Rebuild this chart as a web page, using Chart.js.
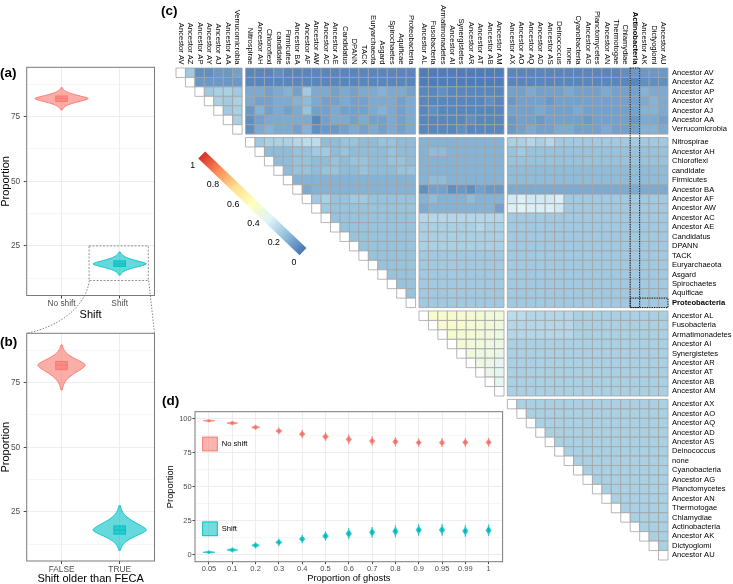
<!DOCTYPE html>
<html>
<head>
<meta charset="utf-8">
<script src="https://cdn.jsdelivr.net/npm/chart.js@4.4.1/dist/chart.umd.min.js"></script>
<style>
  body { margin: 0; width: 733px; height: 584px; position: relative; overflow: hidden; background: #fff;
         font-family: "Liberation Sans", Arial, sans-serif; }
  canvas { position: absolute; }
  .tag { position: absolute; font-weight: bold; font-size: 13.5px; line-height: 14px; color: #000; }
</style>
</head>
<body>
<canvas id="heat" width="573" height="584" style="left:160px;top:0"></canvas>
<canvas id="violA" width="160" height="267" style="left:0;top:55px"></canvas>
<canvas id="violB" width="160" height="306" style="left:0;top:278px"></canvas>
<canvas id="ghost" width="350" height="199" style="left:160px;top:385px"></canvas>
<div class="tag" style="left:0;top:66px">(a)</div>
<div class="tag" style="left:0;top:335px">(b)</div>
<div class="tag" style="left:161px;top:4px">(c)</div>
<div class="tag" style="left:162px;top:394px">(d)</div>
<script>
/* ---------- data ---------- */

// (a) / (b) violins
const shiftGroups = ['No shift', 'Shift'];
const fecaGroups  = ['FALSE', 'TRUE'];
const aMid = [82.0, 18.0];
const aLo  = [77.6, 13.7];
const aHi  = [86.2, 22.6];
const aQ1  = [80.9, 17.0];
const aQ3  = [83.0, 19.2];
const aHalfWidth = [0.46, 0.46];

const bMid = [81.8, 18.0];
const bLo  = [72.2, 10.1];
const bHi  = [89.6, 27.4];
const bQ1  = [80.0, 16.4];
const bQ3  = [83.2, 19.6];
const bHalfWidth = [0.41, 0.46];

// (d) proportion of ghosts
const ghostProps = ['0.05', '0.1', '0.2', '0.3', '0.4', '0.5', '0.6', '0.7', '0.8', '0.9', '0.95', '0.99', '1'];
const dNoShiftMid = [98.5, 96.8, 93.7, 91.0, 88.7, 86.8, 84.8, 83.6, 83.1, 82.4, 82.4, 82.6, 82.6];
const dNoShiftLo  = [97.5, 95.3, 91.9, 88.5, 85.7, 83.6, 81.3, 80.3, 79.8, 79.4, 79.2, 79.4, 79.4];
const dNoShiftHi  = [99.5, 98.3, 95.5, 93.5, 91.7, 90.0, 88.3, 86.9, 86.4, 85.4, 85.6, 85.8, 85.8];
const dNoShiftQ1  = [98.2, 96.3, 93.0, 90.1, 87.7, 85.7, 83.6, 82.5, 82.0, 81.3, 81.3, 81.5, 81.5];
const dNoShiftQ3  = [98.8, 97.3, 94.4, 91.9, 89.7, 87.9, 86.0, 84.7, 84.2, 83.5, 83.5, 83.7, 83.7];
const dNoShiftHw  = [0.25, 0.23, 0.17, 0.135, 0.12, 0.12, 0.115, 0.11, 0.11, 0.11, 0.11, 0.11, 0.11];
const dShiftMid = [1.8, 3.5, 6.9, 9.1, 11.5, 13.7, 15.5, 16.5, 17.2, 18.2, 18.2, 17.4, 17.9];
const dShiftLo  = [0.7, 1.8, 4.7, 6.4, 8.5, 10.3, 11.5, 12.7, 12.9, 14.0, 14.0, 13.2, 13.7];
const dShiftHi  = [2.9, 5.2, 9.1, 11.8, 14.5, 17.1, 19.5, 20.3, 21.5, 22.4, 22.4, 21.6, 22.1];
const dShiftQ1  = [1.5, 3.0, 6.1, 8.2, 10.5, 12.6, 14.2, 15.2, 15.9, 16.9, 16.9, 16.1, 16.6];
const dShiftQ3  = [2.1, 4.0, 7.7, 10.0, 12.5, 14.8, 16.8, 17.8, 18.5, 19.5, 19.5, 18.7, 19.2];
const dShiftHw  = [0.26, 0.23, 0.16, 0.13, 0.12, 0.12, 0.115, 0.11, 0.11, 0.11, 0.11, 0.11, 0.11];

// (c) heatmap: taxa in plotted order, grouped by the white separators
const taxa = [
  'Ancestor AV', 'Ancestor AZ', 'Ancestor AP', 'Ancestor AY', 'Ancestor AJ', 'Ancestor AA', 'Verrucomicrobia',
  'Nitrospirae', 'Ancestor AH', 'Chloroflexi', 'candidate', 'Firmicutes', 'Ancestor BA', 'Ancestor AF',
  'Ancestor AW', 'Ancestor AC', 'Ancestor AE', 'Candidatus', 'DPANN', 'TACK', 'Euryarchaeota', 'Asgard',
  'Spirochaetes', 'Aquificae', 'Proteobacteria',
  'Ancestor AL', 'Fusobacteria', 'Armatimonadetes', 'Ancestor AI', 'Synergistetes', 'Ancestor AR',
  'Ancestor AT', 'Ancestor AB', 'Ancestor AM',
  'Ancestor AX', 'Ancestor AO', 'Ancestor AQ', 'Ancestor AD', 'Ancestor AS', 'Deinococcus', 'none',
  'Cyanobacteria', 'Ancestor AG', 'Planctomycetes', 'Ancestor AN', 'Thermotogae', 'Chlamydiae',
  'Actinobacteria', 'Ancestor AK', 'Dictyoglomi', 'Ancestor AU'
];
const groupSizes = [7, 18, 9, 17];
const boldRow = 'Proteobacteria';
const boldColumn = 'Actinobacteria';
// one string per row, cells right of the diagonal; letter a..z = 0..0.5 (step 0.02), '|' = group break
const heatRows = [
  'kddeef|cccdcccccccccccccc|bbbbbbbbb|ccccccccccccdeeee',
  'eeeee|cccccccccccccccccc|bbbbbbbbb|ccccccccccccccddd',
  'kllk|ggfghfkggfgfgghggf|ccdcccccc|ffgfffgfffgfffhgg',
  'lkl|gffgghigffgffgggfg|cccccccdc|efffefffffffffghg',
  'kl|ehfgfgjffgfffghgfg|cdccccccc|fffgfffgffffffhhg',
  'l|dfgggggcfggfgffgfg|cccccdccc|effeffffeffffeggf',
  '|dghggfhdeefgfgfgfg|ccccdcccc|efgffggfffgfffhhg',
  'klllmnniijjiijjii|hhhhhhhhh|llmlmkkkkkkkkkkkk',
  'iiijjkkijiiiijii|hiihhhhhh|jkjjjjjjjjjjjjjjj',
  'iijjiijijjiijji|hhhhhhhhh|jjjjjjjjjjjjjjjjj',
  'ijjijjiijiiijj|hhhhhhhhh|iiiiiiiiiiiiiiiii',
  'hhhhhhhhhhhhh|hiihhhhhh|iiiiiiiiiiiiiiiii',
  'ghhhhhhhhhhh|dffdedfee|ggggggggggggggggg',
  'kljjkkjjjjj|hihhhihhh|pqpppqkkkkkkkkkkk',
  'kjjjjjjjjj|ghhhhhhhf|qrqqqpkkkkkkkkkkk',
  'jjjjjjjjj|mmmmmmmmm|kkkkkkkkkkkkkkkkk',
  'jjjjjjjj|llllllmll|kkkkkkkkkkkkkkkkk',
  'jjjjjjj|lllllllll|kkkkkkkkkkkkkkkkk',
  'jjjjjj|lllllllll|kkkkkkkkkkkkkkkkk',
  'jjjjj|kkkkkkkkk|kkkkkkkkkkkkkkkkk',
  'jjjj|kkkkkkkkk|kkkkkkkkkkkkkkkkk',
  'jjj|kkkkkkkkk|kkkkkkkkkkkkkkkkk',
  'jj|kkkkkkkkk|kkkkkkkkkkkkkkkkk',
  'j|kkkkkkkkk|kkkkkkkkkkkkkkkkk',
  '|kkkkkkkkk|kkkkkkkkkkkkkkkkk',
  'xxxxwwvv|nnmmmmmllllllllll',
  'xxxwwvv|mmmmmmmllllllllll',
  'xwwvvu|mmmmmmmllllllllll',
  'wvvuu|lllllllllllllllll',
  'vuut|lllllllllllllllll',
  'uts|lllllllllllllllll',
  'ts|lllllllllllllllll',
  's|lllllllllllllllll',
  '|lllllllllllllllll',
  'llllllllllllllll',
  'lllllllllllllll',
  'llllllllllllll',
  'lllllllllllll',
  'llllllllllll',
  'lllllllllll',
  'llllllllll',
  'lllllllll',
  'llllllll',
  'lllllll',
  'llllll',
  'lllll',
  'llll',
  'lll',
  'll',
  'l',
  ''
];
const scaleTicks = [0, 0.2, 0.4, 0.6, 0.8, 1];
const rampStops  = [0, 1 / 6, 2 / 6, 3 / 6, 4 / 6, 5 / 6, 1];
const rampColors = ['#4575b4', '#91bfdb', '#e0f3f8', '#ffffbf', '#fee090', '#fc8d59', '#d73027'];

/* ---------- helpers ---------- */

Chart.defaults.font.family = '"Liberation Sans", Arial, sans-serif';
Chart.defaults.color = '#4d4d4d';

const RED = '#F8766D', TEAL = '#00BFC4';

function hexRgb(h) { return [1, 3, 5].map(i => parseInt(h.substr(i, 2), 16)); }
function colorAt(v) {
  if (v === null) return '#ffffff';
  v = Math.max(0, Math.min(1, v));
  let k = 0;
  while (k < rampStops.length - 2 && v > rampStops[k + 1]) k++;
  const t = (v - rampStops[k]) / (rampStops[k + 1] - rampStops[k]);
  const a = hexRgb(rampColors[k]), b = hexRgb(rampColors[k + 1]);
  return 'rgb(' + a.map((c, i) => Math.round(c + (b[i] - c) * t)).join(',') + ')';
}

const GAP = 0.36; // white separator between groups, in cell units
const groupStart = [];
groupSizes.reduce((acc, n) => { groupStart.push(acc); return acc + n; }, 0);
const groupIndex = j => groupStart.filter(s => j >= s).length - 1;
const pos = j => j + 0.5 + GAP * groupIndex(j);
const SPAN = taxa.length + GAP * (groupSizes.length - 1);

const cells = [];
taxa.forEach((_, i) => {
  const row = heatRows[i].replace(/\|/g, '');
  cells.push({ x: pos(i), y: pos(i), v: null });
  for (let k = 0; k < row.length; k++) {
    cells.push({ x: pos(i + 1 + k), y: pos(i), v: (row.charCodeAt(k) - 97) / 50 });
  }
});

/* ---------- plugins ---------- */

const frame = {
  id: 'frame',
  afterDraw(chart) {
    const { ctx, chartArea: a } = chart;
    ctx.save();
    ctx.strokeStyle = '#7a7a7a';
    ctx.lineWidth = 1;
    ctx.strokeRect(a.left, a.top, a.right - a.left, a.bottom - a.top);
    ctx.restore();
  }
};

function profile(t) { return Math.exp(-Math.pow(2.2 * t, 1.6)); }

const violins = {
  id: 'violins',
  afterDatasetsDraw(chart) {
    const { ctx, scales: { x, y } } = chart;
    chart.data.datasets.forEach((ds, di) => {
      const meta = chart.getDatasetMeta(di);
      meta.data.forEach((pt, k) => {
        const cx = pt.x, cy = pt.y;
        const hw = x.getPixelForValue(ds.data[k].x + ds.halfWidth[k]) - cx;
        const hiPx = y.getPixelForValue(ds.hi[k]), loPx = y.getPixelForValue(ds.lo[k]);
        const n = 30, side = [];
        for (let s = n; s >= 0; s--) side.push([cy + (hiPx - cy) * s / n, hw * profile(s / n)]);
        for (let s = 1; s <= n; s++) side.push([cy + (loPx - cy) * s / n, hw * profile(s / n)]);
        ctx.save();
        ctx.beginPath();
        side.forEach(([py, w], i) => i ? ctx.lineTo(cx + w, py) : ctx.moveTo(cx + w, py));
        for (let i = side.length - 1; i >= 0; i--) ctx.lineTo(cx - side[i][1], side[i][0]);
        ctx.closePath();
        ctx.fillStyle = ds.fill;
        ctx.fill();
        ctx.strokeStyle = ds.stroke;
        ctx.lineWidth = ds.outline;
        ctx.stroke();
        // box
        const bw = x.getPixelForValue(ds.data[k].x + ds.boxWidth / 2) - cx;
        const q1 = y.getPixelForValue(ds.q1[k]), q3 = y.getPixelForValue(ds.q3[k]);
        ctx.fillStyle = ds.boxFill;
        ctx.fillRect(cx - bw, q3, 2 * bw, q1 - q3);
        ctx.strokeStyle = ds.stroke;
        ctx.lineWidth = ds.outline;
        ctx.strokeRect(cx - bw, q3, 2 * bw, q1 - q3);
        ctx.beginPath();
        ctx.moveTo(cx - bw, cy);
        ctx.lineTo(cx + bw, cy);
        ctx.stroke();
        ctx.restore();
      });
    });
  }
};

function violinSet(cats, mid, lo, hi, q1, q3, hw, fill, stroke, opts) {
  return Object.assign({
    data: mid.map((m, i) => ({ x: cats[i], y: m })),
    lo, hi, q1, q3, halfWidth: hw,
    fill, stroke, boxFill: fill, outline: 0.9, boxWidth: 0.2,
    pointRadius: 0, showLine: false
  }, opts || {});
}

function ggAxes(o) {
  const major = v => Math.abs(v % 25) < 1e-6;
  return {
    x: {
      type: 'linear', min: o.xMin, max: o.xMax,
      afterBuildTicks: s => { s.ticks = o.xLabels.map((_, i) => ({ value: i })); },
      afterFit: s => { s.height = o.xHeight; },
      ticks: { autoSkip: false, maxRotation: 0, padding: o.xPad, font: { size: o.tickSize }, color: '#4d4d4d',
               callback: (v, i) => o.xLabels[i] },
      grid: { color: '#ebebeb', lineWidth: 0.9, tickLength: o.tl, tickColor: '#333' },
      border: { display: false },
      title: { display: true, text: o.xTitle, color: '#000', padding: 0,
               font: { size: o.titleSize, lineHeight: o.titleLH } }
    },
    y: {
      type: 'linear', min: o.yMin, max: o.yMax,
      afterBuildTicks: s => { s.ticks = o.yTicks.map(v => ({ value: v })); },
      afterFit: s => { s.width = o.yWidth; },
      ticks: { autoSkip: false, padding: o.yPad, font: { size: o.tickSize }, color: '#4d4d4d',
               callback: v => major(v) ? String(v) : '' },
      grid: { color: '#ebebeb', tickLength: o.tl,
              lineWidth: c => major(c.tick.value) ? 0.9 : 0.45,
              tickColor: c => major(c.tick.value) ? '#333' : 'rgba(0,0,0,0)' },
      border: { display: false },
      title: { display: true, text: 'Proportion', color: '#000', padding: { top: o.yTitlePad, bottom: 0 },
               font: { size: o.titleSize, lineHeight: 1 } }
    }
  };
}

const baseOpts = {
  responsive: false, animation: false, events: [],
  plugins: { legend: { display: false }, tooltip: { enabled: false } }
};

/* ---------- (a) ---------- */

const dashBox = {
  id: 'dashBox',
  afterDraw(chart) {
    const { ctx, scales: { x, y } } = chart;
    const l = x.getPixelForValue(0.474), r = x.getPixelForValue(1.493);
    const t = y.getPixelForValue(25), b = y.getPixelForValue(11.6);
    ctx.save();
    ctx.setLineDash([2, 1.5]);
    ctx.strokeStyle = '#777';
    ctx.lineWidth = 0.8;
    ctx.strokeRect(l, t, r - l, b - t);
    ctx.restore();
  }
};

new Chart(document.getElementById('violA'), {
  type: 'scatter',
  data: { datasets: [
    violinSet([0], aMid.slice(0, 1), aLo.slice(0, 1), aHi.slice(0, 1), aQ1.slice(0, 1), aQ3.slice(0, 1),
              aHalfWidth.slice(0, 1), 'rgba(248,118,109,0.6)', RED),
    violinSet([1], aMid.slice(1), aLo.slice(1), aHi.slice(1), aQ1.slice(1), aQ3.slice(1),
              aHalfWidth.slice(1), 'rgba(0,191,196,0.6)', TEAL)
  ] },
  options: Object.assign({}, baseOpts, {
    layout: { padding: { left: 0, top: 12.3, right: 5.5, bottom: 0 } },
    scales: ggAxes({ xMin: -0.6, xMax: 1.6, xLabels: shiftGroups, xHeight: 26.5, xPad: 0.5, tl: 3,
                     xTitle: 'Shift', titleSize: 11, titleLH: 1.2, tickSize: 8.3,
                     yMin: 5.8, yMax: 94.1, yTicks: [12.5, 25, 37.5, 50, 62.5, 75, 87.5],
                     yWidth: 26.7, yPad: 3.5, yTitlePad: 0 })
  }),
  plugins: [violins, dashBox, frame]
});

/* ---------- (b) ---------- */

const connectors = {
  id: 'connectors',
  afterDraw(chart) {
    const ctx = chart.ctx, top = 278;
    ctx.save();
    ctx.setLineDash([1.5, 1.5]);
    ctx.strokeStyle = '#666';
    ctx.lineWidth = 0.8;
    ctx.beginPath();
    ctx.moveTo(89.3, 280.7 - top);
    ctx.bezierCurveTo(86, 305 - top, 62, 326 - top, 26.7, 333.3 - top);
    ctx.moveTo(148.7, 280.7 - top);
    ctx.lineTo(154.5, 333.3 - top);
    ctx.stroke();
    ctx.restore();
  }
};

new Chart(document.getElementById('violB'), {
  type: 'scatter',
  data: { datasets: [
    violinSet([0], bMid.slice(0, 1), bLo.slice(0, 1), bHi.slice(0, 1), bQ1.slice(0, 1), bQ3.slice(0, 1),
              bHalfWidth.slice(0, 1), 'rgba(248,118,109,0.6)', RED),
    violinSet([1], bMid.slice(1), bLo.slice(1), bHi.slice(1), bQ1.slice(1), bQ3.slice(1),
              bHalfWidth.slice(1), 'rgba(0,191,196,0.6)', TEAL)
  ] },
  options: Object.assign({}, baseOpts, {
    layout: { padding: { left: 0, top: 55.3, right: 5.5, bottom: 0 } },
    scales: ggAxes({ xMin: -0.6, xMax: 1.6, xLabels: fecaGroups, xHeight: 23, xPad: 0.3, tl: 3,
                     xTitle: 'Shift older than FECA', titleSize: 11, titleLH: 1, tickSize: 8.3,
                     yMin: 6.0, yMax: 94.1, yTicks: [12.5, 25, 37.5, 50, 62.5, 75, 87.5],
                     yWidth: 26.7, yPad: 3.5, yTitlePad: 0 })
  }),
  plugins: [violins, connectors, frame]
});

/* ---------- (d) ---------- */

const ghostLegend = {
  id: 'ghostLegend',
  afterDraw(chart) {
    const { ctx, chartArea: a } = chart;
    const keys = [['No shift', 'rgba(248,118,109,0.55)', RED, 32.3], ['Shift', 'rgba(0,191,196,0.55)', TEAL, 117.1]];
    ctx.save();
    keys.forEach(([label, fill, stroke, dy]) => {
      const x = a.left + 7.7, y = a.top + dy;
      ctx.fillStyle = fill;
      ctx.fillRect(x, y - 6.9, 14.6, 13.8);
      ctx.strokeStyle = stroke;
      ctx.lineWidth = 1;
      ctx.strokeRect(x, y - 6.9, 14.6, 13.8);
      ctx.fillStyle = '#000';
      ctx.font = '7.6px "Liberation Sans", Arial, sans-serif';
      ctx.textBaseline = 'middle';
      ctx.fillText(label, x + 19, y);
    });
    ctx.restore();
  }
};

const idx = ghostProps.map((_, i) => i);
new Chart(document.getElementById('ghost'), {
  type: 'scatter',
  data: { datasets: [
    violinSet(idx, dNoShiftMid, dNoShiftLo, dNoShiftHi, dNoShiftQ1, dNoShiftQ3, dNoShiftHw,
              'rgba(248,118,109,0.8)', RED, { boxFill: 'rgba(230,90,82,0.9)', boxWidth: 0.07, outline: 0.6 }),
    violinSet(idx, dShiftMid, dShiftLo, dShiftHi, dShiftQ1, dShiftQ3, dShiftHw,
              'rgba(0,191,196,0.8)', TEAL, { boxFill: 'rgba(0,160,165,0.9)', boxWidth: 0.07, outline: 0.6 })
  ] },
  options: Object.assign({}, baseOpts, {
    layout: { padding: { left: 0, top: 26.7, right: 7.4, bottom: 0 } },
    scales: ggAxes({ xMin: -0.6, xMax: 12.6, xLabels: ghostProps, xHeight: 22.3, xPad: 0.3, tl: 2.5,
                     xTitle: 'Proportion of ghosts', titleSize: 9.3, titleLH: 1.1, tickSize: 7.5,
                     yMin: -5.15, yMax: 105.15, yTicks: [0, 12.5, 25, 37.5, 50, 62.5, 75, 87.5, 100],
                     yWidth: 35, yPad: 0.8, yTitlePad: 6 })
  }),
  plugins: [violins, ghostLegend, frame]
});

/* ---------- (c) heatmap ---------- */

const heatDecor = {
  id: 'heatDecor',
  afterDraw(chart) {
    const { ctx, scales: { x, y } } = chart;
    const off = 160;
    ctx.save();
    // column labels, rotated clockwise, ending just above the matrix
    ctx.fillStyle = '#000';
    ctx.textAlign = 'right';
    ctx.textBaseline = 'middle';
    taxa.forEach((name, j) => {
      ctx.save();
      ctx.translate(x.getPixelForValue(pos(j)), y.top - 3.5);
      ctx.rotate(Math.PI / 2);
      ctx.font = (name === boldColumn ? 'bold ' : '') + '7.6px "Liberation Sans", Arial, sans-serif';
      ctx.fillText(name, 0, 0);
      ctx.restore();
    });
    // dotted highlight boxes
    const jc = taxa.indexOf(boldColumn), ir = taxa.indexOf(boldRow);
    const cl = x.getPixelForValue(pos(jc) - 0.5), cr = x.getPixelForValue(pos(jc) + 0.5);
    const rt = y.getPixelForValue(pos(ir) - 0.5), rb = y.getPixelForValue(pos(ir) + 0.5);
    const right = x.getPixelForValue(pos(taxa.length - 1) + 0.5);
    ctx.setLineDash([1.2, 1.2]);
    ctx.strokeStyle = '#111';
    ctx.lineWidth = 1;
    ctx.strokeRect(cl, y.getPixelForValue(0), cr - cl, rb - y.getPixelForValue(0));
    ctx.strokeRect(cl, rt, right - cl, rb - rt);
    ctx.setLineDash([]);
    // diagonal colour bar
    const p0 = { x: 303 - off, y: 251.7 }, p1 = { x: 201.7 - off, y: 155 };
    const len = Math.hypot(p1.x - p0.x, p1.y - p0.y);
    ctx.save();
    ctx.translate(p0.x, p0.y);
    ctx.rotate(Math.atan2(p1.y - p0.y, p1.x - p0.x));
    const g = ctx.createLinearGradient(0, 0, len, 0);
    rampStops.forEach((s, i) => g.addColorStop(s, rampColors[i]));
    ctx.fillStyle = g;
    ctx.fillRect(0, -5, len, 10);
    ctx.restore();
    ctx.fillStyle = '#000';
    ctx.textAlign = 'center';
    ctx.font = '8.8px "Liberation Sans", Arial, sans-serif';
    scaleTicks.forEach(v => {
      const px = p0.x + (p1.x - p0.x) * v - 9, py = p0.y + (p1.y - p0.y) * v + 10.5;
      ctx.fillText(String(v), px, py);
    });
    ctx.restore();
  }
};

new Chart(document.getElementById('heat'), {
  type: 'scatter',
  data: { datasets: [{
    data: cells,
    pointStyle: 'rect',
    pointRadius: c => Math.abs(c.chart.scales.x.getPixelForValue(1) - c.chart.scales.x.getPixelForValue(0)) / Math.SQRT2,
    backgroundColor: c => colorAt(c.raw ? c.raw.v : null),
    borderColor: '#a3a3a3',
    borderWidth: 0.8,
    clip: false
  }] },
  options: Object.assign({}, baseOpts, {
    layout: { padding: { left: 16, top: 68, right: 0, bottom: 24 } },
    scales: {
      x: { type: 'linear', min: 0, max: SPAN, display: false },
      y: {
        type: 'linear', min: 0, max: SPAN, reverse: true, position: 'right',
        afterBuildTicks: s => { s.ticks = taxa.map((_, i) => ({ value: pos(i) })); },
        afterFit: s => { s.width = 65; },
        grid: { display: false, drawTicks: false, tickLength: 0 }, border: { display: false },
        ticks: { autoSkip: false, padding: 4, color: '#000',
                 font: c => ({ size: 7.6, weight: taxa[c.index] === boldRow ? 'bold' : 'normal' }),
                 callback: (v, i) => taxa[i] }
      }
    }
  }),
  plugins: [heatDecor]
});
</script>
</body>
</html>
